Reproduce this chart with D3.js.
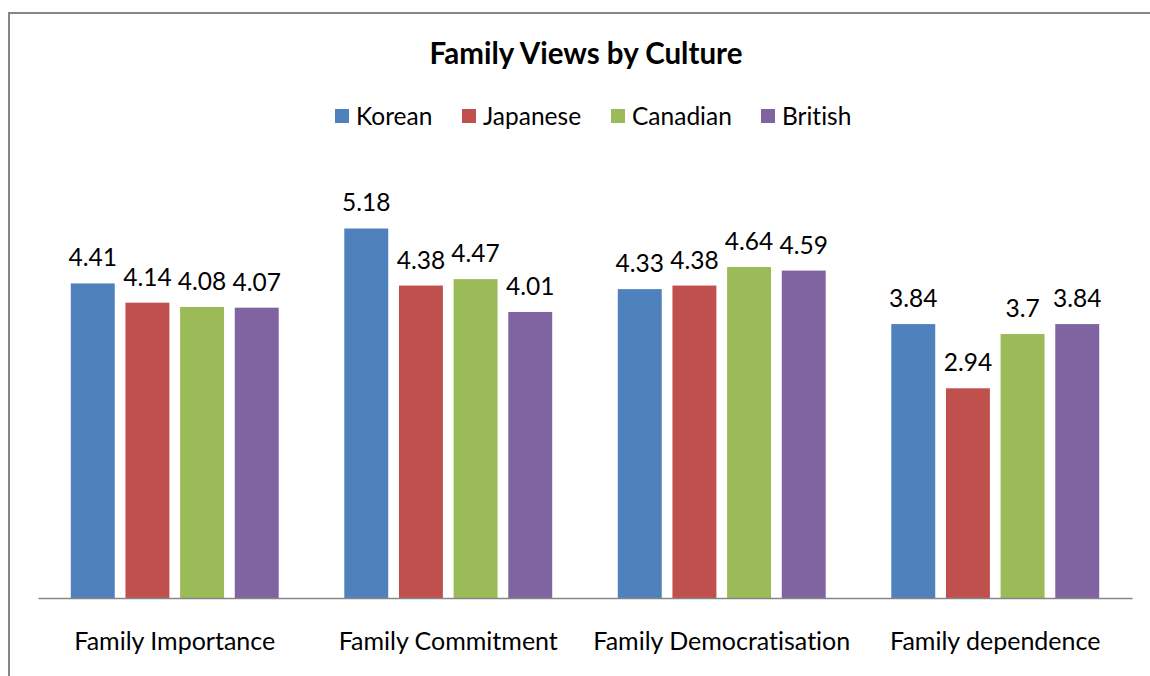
<meta charset="utf-8">
<style>
    body { margin: 0; background: #ffffff; }
    svg { display: block; font-family: Lato, "Open Sans", sans-serif; font-variant-ligatures: none; }
</style>
<body>
<script src="https://cdn.jsdelivr.net/npm/d3@7"></script>
<script>
    const categories = ["Family Importance", "Family Commitment", "Family Democratisation", "Family dependence"];
    const cultures = ["Korean", "Japanese", "Canadian", "British"];
    const colours = ["#4f81bd", "#c0504d", "#9bbb59", "#8064a2"];
    const korean = [4.41, 5.18, 4.33, 3.84];
    const japanese = [4.14, 4.38, 4.38, 2.94];
    const canadian = [4.08, 4.47, 4.64, 3.7];
    const british = [4.07, 4.01, 4.59, 3.84];
    const seriesValues = [korean, japanese, canadian, british];

    let width = 1150, height = 676;

    let svg = d3.select("body").append("svg")
        .attr("width", width)
        .attr("height", height);

    // chart frame (runs off the right and bottom of the picture)
    svg.append("path")
        .attr("d", "M9,700 V13 H1160")
        .attr("fill", "none")
        .attr("stroke", "#868686")
        .attr("stroke-width", 2);

    svg.append("text")
        .attr("x", 586)
        .attr("y", 64)
        .attr("text-anchor", "middle")
        .style("font-size", "29.5px")
        .style("font-weight", "bold")
        .text("Family Views by Culture");

    let x0 = d3.scaleBand()
        .domain(categories)
        .range([38, 1132])
        .padding(0);

    let x1 = d3.scaleBand()
        .domain(cultures)
        .range([0, x0.bandwidth()])
        .paddingInner(0.196)
        .paddingOuter(0.6);

    let y = d3.scaleLinear()
        .domain([0, 6])
        .range([598, 170]);

    let colour = d3.scaleOrdinal().domain(cultures).range(colours);

    let rows = [];
    categories.forEach(function (c, i) {
        cultures.forEach(function (k, j) {
            rows.push({cat: c, culture: k, value: seriesValues[j][i]});
        });
    });

    let groups = svg.selectAll(".bar")
        .data(rows)
        .enter().append("g")
        .attr("class", "bar")
        .attr("transform", function (d) { return "translate(" + (x0(d.cat) + x1(d.culture)) + ",0)"; });

    groups.append("rect")
        .attr("x", 0)
        .attr("y", function (d) { return y(d.value); })
        .attr("width", x1.bandwidth())
        .attr("height", function (d) { return y(0) - y(d.value); })
        .attr("fill", function (d) { return colour(d.culture); });

    groups.append("text")
        .attr("x", x1.bandwidth() / 2)
        .attr("y", function (d) { return y(d.value) - 17; })
        .attr("text-anchor", "middle")
        .style("font-size", "24.5px")
        .text(function (d) { return d.value; });

    // category axis
    let xAxis = svg.append("g")
        .attr("transform", "translate(0," + y(0) + ")")
        .call(d3.axisBottom(x0).tickSize(0).tickPadding(34));
    xAxis.select(".domain").attr("stroke", "#868686").attr("stroke-width", 1.5);
    xAxis.selectAll("text")
        .style("font-family", "Lato, sans-serif")
        .style("font-size", "25px")
        .attr("fill", "#000");

    // legend
    let legendX = [335, 462, 611, 761];
    let legend = svg.selectAll(".legend")
        .data(cultures)
        .enter().append("g")
        .attr("class", "legend")
        .attr("transform", function (d, i) { return "translate(" + legendX[i] + ",109)"; });

    legend.append("rect")
        .attr("width", 14)
        .attr("height", 14)
        .attr("fill", function (d) { return colour(d); });

    legend.append("text")
        .attr("x", 21)
        .attr("y", 16)
        .style("font-size", "24.5px")
        .text(function (d) { return d; });
</script>
</body>
